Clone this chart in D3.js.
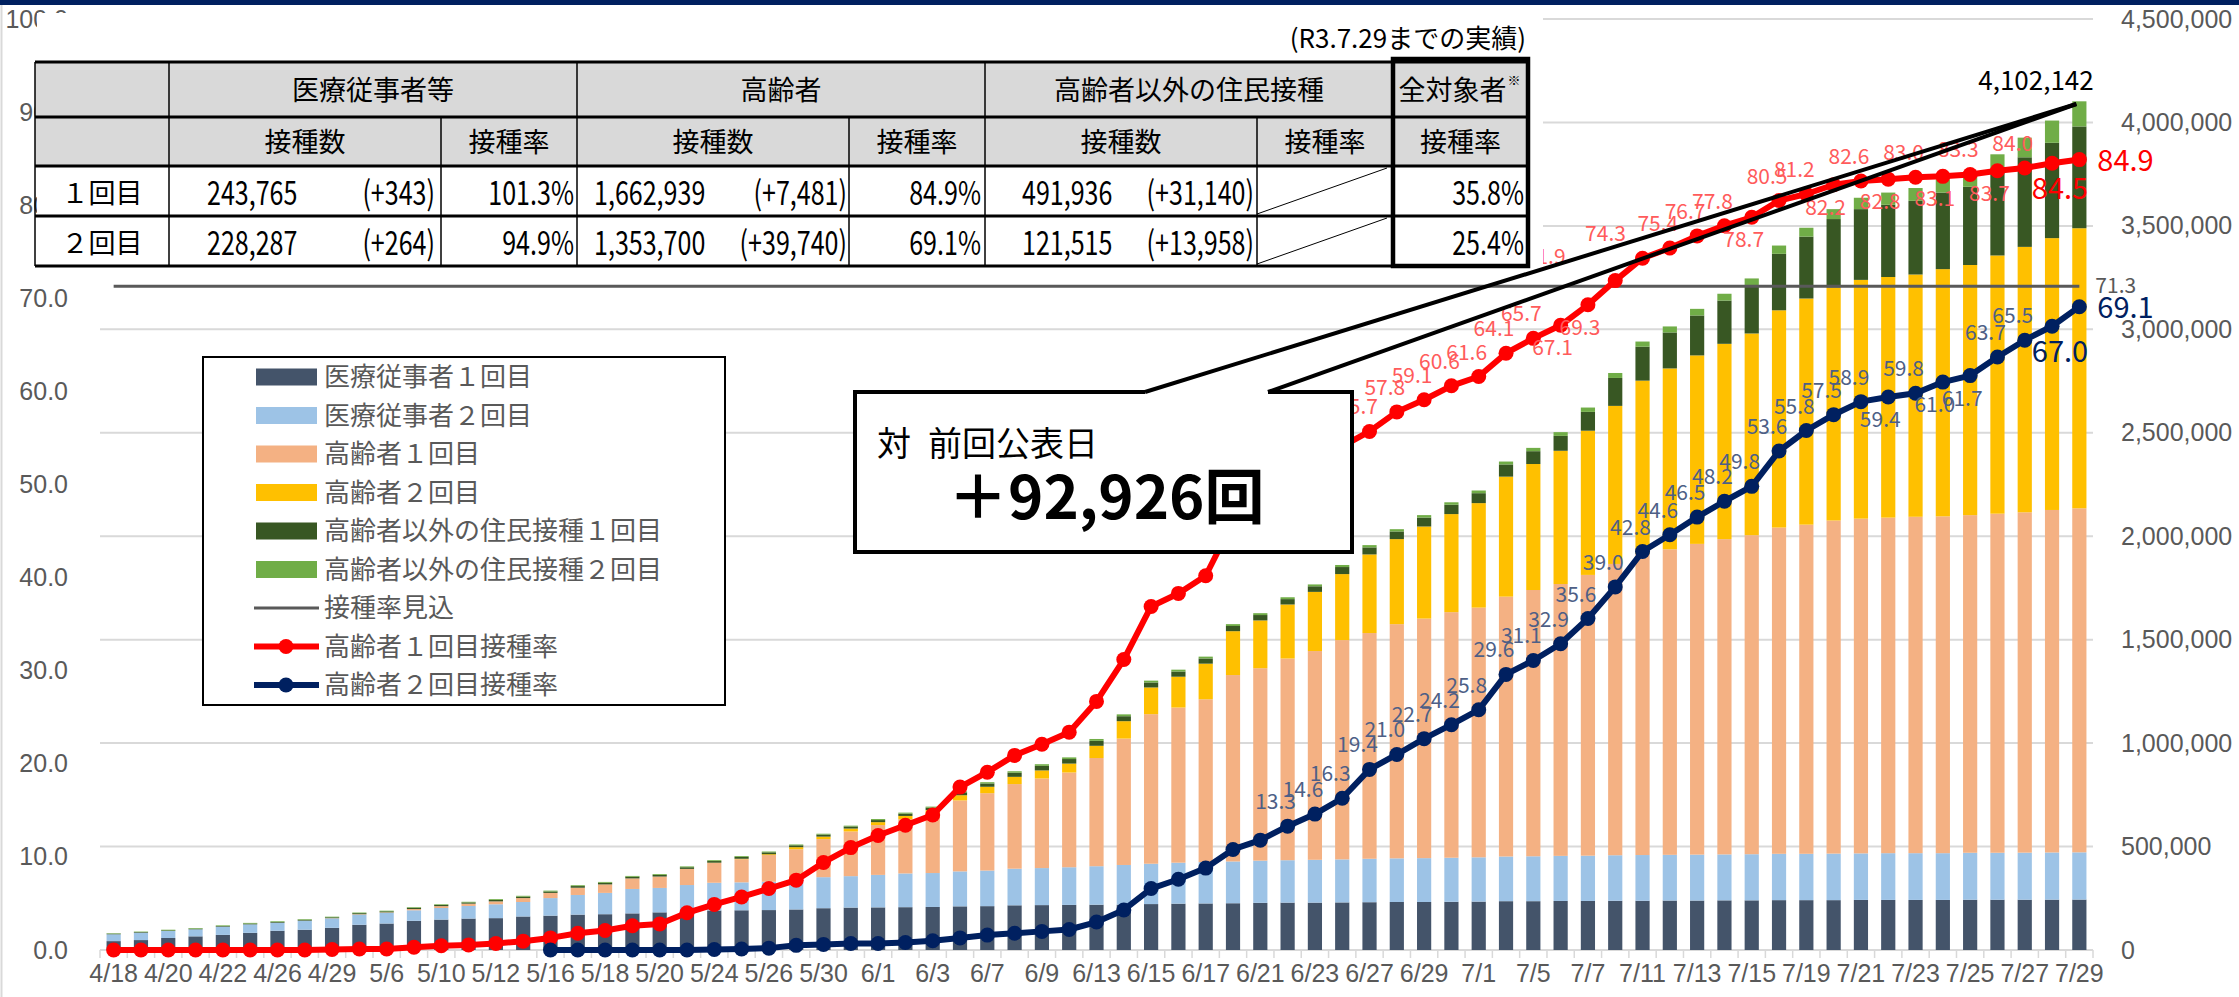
<!DOCTYPE html>
<html>
<head>
<meta charset="utf-8">
<script src="https://cdn.jsdelivr.net/npm/d3@7"></script>
<style>
body { margin: 0; background: #fff; }
svg { display: block; font-family: 'Noto Sans CJK JP', 'Noto Sans', sans-serif; }
</style>
</head>
<body>
<div id="chart"></div>
<script>
// categories (publication dates); every other one is labelled on the axis
const categories = ["4/18","4/19","4/20","4/21","4/22","4/25","4/26","4/28","4/29","5/2",
  "5/6","5/9","5/10","5/11","5/12","5/13","5/16","5/17","5/18","5/19",
  "5/20","5/23","5/24","5/25","5/26","5/27","5/30","5/31","6/1","6/2",
  "6/3","6/6","6/7","6/8","6/9","6/10","6/13","6/14","6/15","6/16",
  "6/17","6/20","6/21","6/22","6/23","6/24","6/27","6/28","6/29","6/30",
  "7/1","7/4","7/5","7/6","7/7","7/8","7/11","7/12","7/13","7/14",
  "7/15","7/18","7/19","7/20","7/21","7/22","7/23","7/24","7/25","7/26",
  "7/27","7/28","7/29"]
const dateTicks = ["4/18","4/20","4/22","4/26","4/29","5/6","5/10","5/12","5/16","5/18","5/20","5/24","5/26",
  "5/30","6/1","6/3","6/7","6/9","6/13","6/15","6/17","6/21","6/23","6/27","6/29","7/1","7/5","7/7",
  "7/11","7/13","7/15","7/19","7/21","7/23","7/25","7/27","7/29"]

// 医療従事者 1回目
const medical1 = [43000,48000,58000,66000,73000,83000,93000,98000,107000,122000,
  128000,141000,147000,152000,154000,162000,166000,171000,173000,177000,
  182000,184000,191000,192000,193000,196000,202000,205000,206000,207000,
  208000,211000,212000,216000,217000,218000,219000,219000,222000,224000,
  225000,226000,228000,229000,229000,230000,231000,232000,232000,233000,
  234000,236000,236000,237000,237000,238000,238000,239000,239000,240000,
  240000,241000,241000,241000,242000,242000,242000,242000,243000,243000,
  243100,243422,243765]
// 医療従事者 2回目
const medical2 = [33000,36000,34000,34000,40000,41000,39000,44000,46000,49000,
  52000,51000,56000,61000,67000,70000,85000,95000,103000,118000,
  118000,130000,134000,135000,137000,144000,150000,152000,157000,163000,
  164000,169000,172000,177000,179000,182000,186000,192000,195000,198000,
  200000,202000,204000,205000,207000,208000,210000,211000,212000,213000,
  214000,216000,217000,218000,219000,220000,221000,221000,222000,222000,
  223000,224000,224000,225000,225000,226000,226000,226000,227000,227000,
  227500,228023,228287]
// 高齢者 1回目
const elderly1 = [0,0,0,0,0,0,0,0,1000,2000,
  2000,6000,9000,11000,14000,19000,25000,35000,41000,51000,
  55000,78000,96000,112000,129000,147000,184000,216000,241000,262000,
  284000,343000,374000,409000,433000,458000,523000,611000,723000,750000,
  787000,901000,930000,975000,1009000,1060000,1091000,1132000,1158000,1187000,
  1207000,1256000,1287000,1314000,1357000,1408000,1455000,1477000,1502000,1524000,
  1542000,1577000,1591000,1610000,1618000,1622000,1626000,1628000,1632000,1639000,
  1645000,1655458,1662939]
// 高齢者 2回目
const elderly2 = [0,0,0,0,0,0,0,0,0,0,
  0,0,0,0,0,0,0,0,0,0,
  0,0,1000,2000,4000,10000,12000,14000,14000,16000,
  20000,25000,31000,35000,39000,43000,59000,84000,129000,149000,
  172000,212000,231000,261000,286000,319000,380000,411000,445000,474000,
  505000,580000,609000,644000,697000,764000,838000,874000,911000,944000,
  975000,1050000,1093000,1126000,1154000,1163000,1171000,1195000,1209000,1248000,
  1283000,1313960,1353700]
// 高齢者以外の住民接種 1回目
const others1 = [3000,3000,3000,3000,3000,4000,4000,4000,4000,5000,
  5000,6000,6000,6000,7000,7000,7000,8000,8000,8000,
  8000,8000,8000,9000,9000,9000,10000,10000,10000,11000,
  12000,14000,16000,20000,22000,22000,24000,24000,24000,25000,
  25000,25000,26000,26000,27000,34000,34000,37000,43000,45000,
  48000,59000,62000,72000,91000,135000,164000,174000,193000,209000,
  232000,273000,299000,331000,342000,349000,356000,370000,378000,415000,
  433000,460796,491936]
// 高齢者以外の住民接種 2回目
const others2 = [2000,2000,3000,3000,3000,3000,3000,3000,3000,3000,
  3000,3000,3000,3000,4000,4000,4000,4000,4000,4000,
  4000,4000,4000,4000,4000,4000,4000,4000,5000,5000,
  5000,5000,6000,7000,8000,8000,9000,9000,9000,9000,
  9000,9000,9000,9000,9000,10000,11000,11000,12000,12000,
  13000,14000,16000,18000,21000,24000,25000,29000,32000,33000,
  34000,40000,43000,48000,55000,59000,62000,64000,68000,74000,
  95000,107557,121515]
// 高齢者 1回目接種率 (%)
const rate1 = [0,0,0,0,0,0,0,0,0.05,0.1,
  0.1,0.3,0.45,0.55,0.7,0.95,1.3,1.8,2.1,2.6,
  2.8,4.0,4.9,5.7,6.6,7.5,9.4,11.0,12.3,13.4,
  14.5,17.5,19.1,20.9,22.1,23.4,26.7,31.2,36.9,38.3,
  40.2,46.0,47.5,49.8,51.5,54.1,55.7,57.8,59.1,60.6,
  61.6,64.1,65.7,67.1,69.3,71.9,74.3,75.4,76.7,77.8,
  78.7,80.5,81.2,82.2,82.6,82.8,83.0,83.1,83.3,83.7,
  84.0,84.5,84.9]
// 高齢者 2回目接種率 (%), starts 5/16
const rate2 = [null,null,null,null,null,null,null,null,null,null,
  null,null,null,null,null,null,0,0,0,0,
  0,0,0.05,0.1,0.2,0.5,0.6,0.7,0.7,0.8,
  1.0,1.3,1.6,1.8,2.0,2.2,3.0,4.3,6.6,7.6,
  8.8,10.8,11.8,13.3,14.6,16.3,19.4,21.0,22.7,24.2,
  25.8,29.6,31.1,32.9,35.6,39.0,42.8,44.6,46.5,48.2,
  49.8,53.6,55.8,57.5,58.9,59.4,59.8,61.0,61.7,63.7,
  65.5,67.0,69.1]
const plannedRate = 71.3  // 接種率見込
const rateTicks = [0,10,20,30,40,50,60,70,80,90,100]
const countTicks = [0,500000,1000000,1500000,2000000,2500000,3000000,3500000,4000000,4500000]

const seriesKeys = ["medical1","medical2","elderly1","elderly2","others1","others2"]
const seriesNames = ["医療従事者１回目","医療従事者２回目","高齢者１回目","高齢者２回目","高齢者以外の住民接種１回目","高齢者以外の住民接種２回目"]
const colors = ["#44546A","#9DC3E6","#F4B183","#FFC000","#385723","#70AD47"]

const W = 2239, H = 997
const plot = {left: 100, right: 2093, top: 19, bottom: 950}

const svg = d3.select("#chart").append("svg")
  .attr("width", W)
  .attr("height", H)

svg.append("rect").attr("width", W).attr("height", H).attr("fill", "#fff")
svg.append("rect").attr("width", W).attr("height", 5).attr("fill", "#002060") // top band
svg.append("line").attr("x1", 1.5).attr("x2", 1.5).attr("y1", 5).attr("y2", H)
  .attr("stroke", "#D9D9D9").attr("stroke-width", 2)

const x = d3.scaleBand()
  .domain(categories)
  .range([plot.left, plot.right])
  .paddingInner(0.48)
  .paddingOuter(0.24)
const yRate = d3.scaleLinear().domain([0, 100]).range([plot.bottom, plot.top])
const yCount = d3.scaleLinear().domain([0, 4500000]).range([plot.bottom, plot.top])
const cx = d => x(d) + x.bandwidth() / 2

// gridlines (right axis)
svg.append("g").selectAll("line")
  .data(countTicks.slice(1))
  .join("line")
  .attr("x1", plot.left).attr("x2", plot.right)
  .attr("y1", d => yCount(d)).attr("y2", d => yCount(d))
  .attr("stroke", "#D9D9D9").attr("stroke-width", 2)

// x axis line and category ticks
svg.append("line")
  .attr("x1", plot.left).attr("x2", plot.right)
  .attr("y1", plot.bottom).attr("y2", plot.bottom)
  .attr("stroke", "#D9D9D9").attr("stroke-width", 2)
svg.append("g").selectAll("line")
  .data(d3.range(categories.length + 1))
  .join("line")
  .attr("x1", i => plot.left + i * x.step()).attr("x2", i => plot.left + i * x.step())
  .attr("y1", plot.bottom).attr("y2", plot.bottom + 8)
  .attr("stroke", "#D9D9D9").attr("stroke-width", 1.5)

// stacked bars
const rows = categories.map((c, i) => ({
  date: c, medical1: medical1[i], medical2: medical2[i], elderly1: elderly1[i],
  elderly2: elderly2[i], others1: others1[i], others2: others2[i]
}))
const stacked = d3.stack().keys(seriesKeys)(rows)
svg.append("g").selectAll("g")
  .data(stacked)
  .join("g")
  .attr("fill", (d, i) => colors[i])
  .selectAll("rect")
  .data(d => d)
  .join("rect")
  .attr("x", d => x(d.data.date))
  .attr("width", x.bandwidth())
  .attr("y", d => yCount(d[1]))
  .attr("height", d => Math.max(0, yCount(d[0]) - yCount(d[1])))

// axes
const tickFont = g => g.selectAll("text").attr("fill", "#595959").attr("font-size", 25).attr("font-family", null)
const xAxis = d3.axisBottom(x).tickValues(dateTicks).tickSize(0).tickPadding(14)
svg.append("g")
  .attr("transform", `translate(0,${plot.bottom})`)
  .call(xAxis)
  .call(g => g.select(".domain").remove())
  .call(tickFont)

const yAxisLeft = d3.axisLeft(yRate).tickValues(rateTicks).tickFormat(d3.format(".1f")).tickSize(0).tickPadding(0)
svg.append("g")
  .attr("transform", "translate(68,0)")
  .call(yAxisLeft)
  .call(g => g.select(".domain").remove())
  .call(tickFont)

const yAxisRight = d3.axisRight(yCount).tickValues(countTicks).tickFormat(d3.format(",")).tickSize(0).tickPadding(0)
svg.append("g")
  .attr("transform", "translate(2121,0)")
  .call(yAxisRight)
  .call(g => g.select(".domain").remove())
  .call(tickFont)

// 接種率見込
svg.append("line")
  .attr("x1", cx(categories[0])).attr("x2", cx(categories[categories.length - 1]))
  .attr("y1", yRate(plannedRate)).attr("y2", yRate(plannedRate))
  .attr("stroke", "#595959").attr("stroke-width", 3)
svg.append("text")
  .attr("x", cx(categories[categories.length - 1]) + 16)
  .attr("y", yRate(plannedRate) + 7)
  .attr("font-size", 21).attr("fill", "#595959")
  .text(d3.format(".1f")(plannedRate))

// rate lines
const fmt = d3.format(".1f")
function drawRate(values, color) {
  const line = d3.line()
    .defined(d => d != null)
    .x((d, i) => cx(categories[i]))
    .y(d => yRate(d))
  svg.append("path")
    .datum(values)
    .attr("fill", "none")
    .attr("stroke", color)
    .attr("stroke-width", 6)
    .attr("stroke-linejoin", "round")
    .attr("d", line)
  svg.append("g").selectAll("circle")
    .data(values.map((v, i) => ({v, i})).filter(d => d.v != null))
    .join("circle")
    .attr("cx", d => cx(categories[d.i]))
    .attr("cy", d => yRate(d.v))
    .attr("r", 7.5)
    .attr("fill", color)
}
drawRate(rate1, "#FF0000")
drawRate(rate2, "#002060")

function rateLabels(values, from, below, color, shift) {
  const idx = d3.range(from, values.length - 2)
  svg.append("g").selectAll("text")
    .data(idx)
    .join("text")
    .attr("x", i => cx(categories[i]) + (below.includes(i) ? -8 : (shift[i] || -12)))
    .attr("y", i => yRate(values[i]) + (below.includes(i) ? 30 : -17))
    .attr("text-anchor", "middle")
    .attr("font-size", 21)
    .attr("fill", color)
    .text(i => fmt(values[i]))
}
rateLabels(rate1, 45, [53, 54, 60, 63, 65, 67, 69], "#FF5B5B", {55: -70, 56: -37})
rateLabels(rate2, 43, [65, 67, 68], "#4E5F86", {})

// emphasised last two points
const last = categories.length - 1
function bigLabel(values, color) {
  svg.append("text")
    .attr("x", cx(categories[last]) + 18)
    .attr("y", yRate(values[last]) + 11)
    .attr("font-size", 29).attr("fill", color)
    .text(fmt(values[last]))
  svg.append("text")
    .attr("x", cx(categories[last - 1]) + 8)
    .attr("y", yRate(values[last - 1]) + 36)
    .attr("text-anchor", "middle")
    .attr("font-size", 29).attr("fill", color)
    .text(fmt(values[last - 1]))
}
bigLabel(rate1, "#FF0000")
bigLabel(rate2, "#002060")

// legend
const legend = svg.append("g")
legend.append("rect")
  .attr("x", 203).attr("y", 357).attr("width", 522).attr("height", 348)
  .attr("fill", "#fff").attr("stroke", "#000").attr("stroke-width", 2)
const legendItems = seriesNames.map((n, i) => ({name: n, type: "bar", color: colors[i]}))
  .concat([
    {name: "接種率見込", type: "plain", color: "#595959"},
    {name: "高齢者１回目接種率", type: "marker", color: "#FF0000"},
    {name: "高齢者２回目接種率", type: "marker", color: "#002060"}
  ])
legendItems.forEach((d, i) => {
  const ly = 377 + i * 38.5
  if (d.type === "bar") {
    legend.append("rect").attr("x", 256).attr("y", ly - 8.5).attr("width", 61).attr("height", 17).attr("fill", d.color)
  } else {
    legend.append("line").attr("x1", 254).attr("x2", 319).attr("y1", ly).attr("y2", ly)
      .attr("stroke", d.color).attr("stroke-width", d.type === "plain" ? 3 : 6)
    if (d.type === "marker") legend.append("circle").attr("cx", 286).attr("cy", ly).attr("r", 7.5).attr("fill", d.color)
  }
  legend.append("text")
    .attr("x", 324).attr("y", ly)
    .attr("dy", "0.35em")
    .attr("font-size", 26).attr("fill", "#595959")
    .text(d.name)
})

// summary table (R3.7.29)
const table = svg.append("g")
table.append("rect").attr("x", 37).attr("y", 13).attr("width", 1506).attr("height", 257).attr("fill", "#fff")
table.append("text")
  .attr("x", 1526).attr("y", 48)
  .attr("text-anchor", "end")
  .attr("font-size", 26).attr("fill", "#000")
  .text("(R3.7.29までの実績)")

const colX = [35, 169, 441, 577, 849, 985, 1257, 1393, 1528]
const rowY = [62, 117, 166, 216, 266]
table.append("rect")
  .attr("x", colX[0]).attr("y", rowY[0])
  .attr("width", colX[8] - colX[0]).attr("height", rowY[2] - rowY[0])
  .attr("fill", "#D9D9D9")
rowY.forEach(y => table.append("line")
  .attr("x1", colX[0]).attr("x2", colX[8]).attr("y1", y).attr("y2", y)
  .attr("stroke", "#000").attr("stroke-width", 3))
table.append("line").attr("x1", colX[0]).attr("x2", colX[0]).attr("y1", rowY[0]).attr("y2", rowY[4])
  .attr("stroke", "#000").attr("stroke-width", 1.5)
;[1, 3, 5].forEach(c => table.append("line")
  .attr("x1", colX[c]).attr("x2", colX[c]).attr("y1", rowY[0]).attr("y2", rowY[4])
  .attr("stroke", "#000").attr("stroke-width", 1.5))
;[2, 4, 6].forEach(c => table.append("line")
  .attr("x1", colX[c]).attr("x2", colX[c]).attr("y1", rowY[1]).attr("y2", rowY[4])
  .attr("stroke", "#000").attr("stroke-width", 1.5))
// diagonal cells
;[[rowY[2], rowY[3]], [rowY[3], rowY[4]]].forEach(([t, b]) => table.append("line")
  .attr("x1", colX[6]).attr("y1", b - 2).attr("x2", colX[7] - 6).attr("y2", t + 2)
  .attr("stroke", "#000").attr("stroke-width", 1))
table.append("rect")
  .attr("x", colX[7]).attr("y", 59).attr("width", colX[8] - colX[7]).attr("height", rowY[4] - 59)
  .attr("fill", "none").attr("stroke", "#000").attr("stroke-width", 4.5)

function cell(px, py, str, anchor, num) {
  const g = table.append("g").attr("transform", `translate(${px},${py})` + (num ? " scale(0.76,1)" : ""))
  g.append("text")
    .attr("text-anchor", anchor)
    .attr("dy", "0.36em")
    .attr("font-size", num ? 33 : 27)
    .attr("fill", "#000")
    .text(str)
}
const mid = c => (colX[c] + colX[c + 1]) / 2
const hy1 = (rowY[0] + rowY[1]) / 2 + 1, hy2 = (rowY[1] + rowY[2]) / 2 + 1
cell((colX[1] + colX[3]) / 2, hy1, "医療従事者等", "middle")
cell((colX[3] + colX[5]) / 2, hy1, "高齢者", "middle")
cell((colX[5] + colX[7]) / 2, hy1, "高齢者以外の住民接種", "middle")
cell(mid(7) - 8, hy1, "全対象者", "middle")
table.append("text").attr("x", mid(7) + 47).attr("y", hy1 - 6).attr("font-size", 13).text("※")
;["接種数", "接種率", "接種数", "接種率", "接種数", "接種率", "接種率"].forEach((t, i) => cell(mid(i + 1), hy2, t, "middle"))

const tableRows = [
  ["１回目", "243,765", "(+343)", "101.3%", "1,662,939", "(+7,481)", "84.9%", "491,936", "(+31,140)", "35.8%"],
  ["２回目", "228,287", "(+264)", "94.9%", "1,353,700", "(+39,740)", "69.1%", "121,515", "(+13,958)", "25.4%"]
]
tableRows.forEach((r, k) => {
  const ry = (rowY[k + 2] + rowY[k + 3]) / 2 + 2
  cell(mid(0), ry, r[0], "middle")
  cell(colX[1] + 38, ry, r[1], "start", true)
  cell(colX[2] - 6, ry, r[2], "end", true)
  cell(colX[3] - 3, ry, r[3], "end", true)
  cell(colX[3] + 17, ry, r[4], "start", true)
  cell(colX[4] - 2, ry, r[5], "end", true)
  cell(colX[5] - 4, ry, r[6], "end", true)
  cell(colX[5] + 37, ry, r[7], "start", true)
  cell(colX[6] - 3, ry, r[8], "end", true)
  cell(colX[8] - 4, ry, r[9], "end", true)
})

// callout: change since previous publication
const callout = svg.append("g")
callout.append("rect").attr("x", 855).attr("y", 392).attr("width", 497).attr("height", 160).attr("fill", "#fff")
callout.append("path")
  .attr("d", "M1145,392 L855,392 L855,552 L1352,552 L1352,392 L1268,392")
  .attr("fill", "none").attr("stroke", "#000").attr("stroke-width", 4)
const tip = [cx(categories[last]) - 3, 104]
callout.append("line").attr("x1", 1145).attr("y1", 392).attr("x2", tip[0]).attr("y2", tip[1])
  .attr("stroke", "#000").attr("stroke-width", 4)
callout.append("line").attr("x1", 1268).attr("y1", 392).attr("x2", tip[0]).attr("y2", tip[1])
  .attr("stroke", "#000").attr("stroke-width", 4)
callout.append("text").attr("x", 877).attr("y", 456).attr("font-size", 34).attr("fill", "#000").text("対")
callout.append("text").attr("x", 928).attr("y", 456).attr("font-size", 34).attr("fill", "#000").text("前回公表日")
callout.append("text").attr("x", 948).attr("y", 519).attr("font-size", 60).attr("font-weight", "bold").attr("fill", "#000").text("＋92,926回")

// total on the last day
svg.append("text")
  .attr("x", 2036).attr("y", 90)
  .attr("text-anchor", "middle")
  .attr("font-size", 26).attr("fill", "#000")
  .text(d3.format(",")(d3.sum(seriesKeys, k => rows[last][k])))
</script>
</body>
</html>
